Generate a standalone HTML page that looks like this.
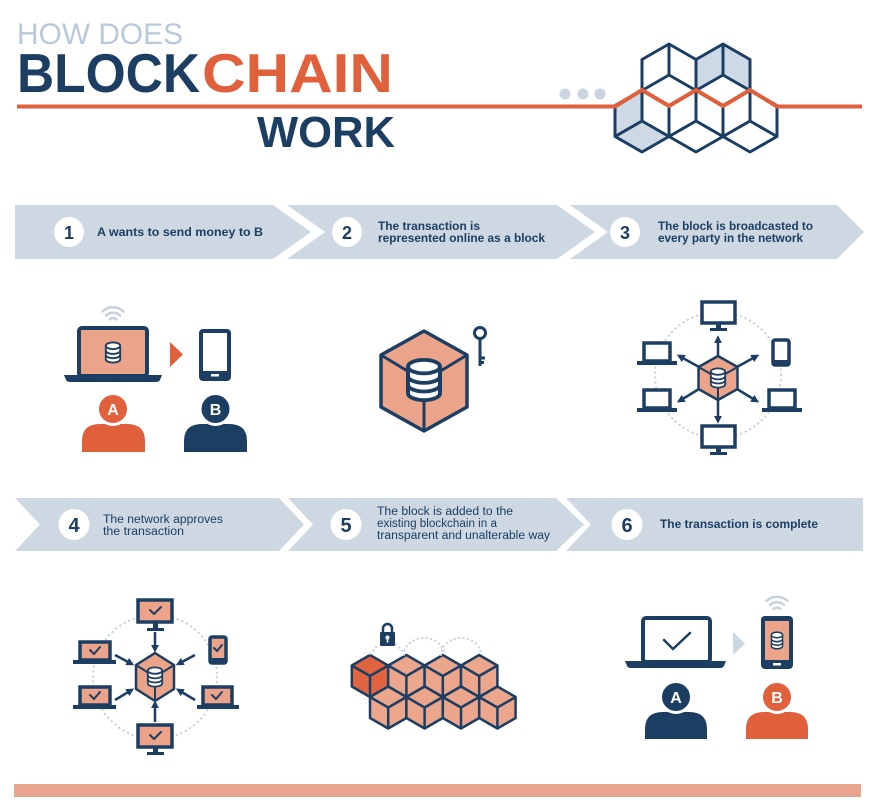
<!DOCTYPE html>
<html><head><meta charset="utf-8"><style>
html,body{margin:0;padding:0;background:#fff;}
svg{display:block;}
text{font-family:"Liberation Sans",Arial,sans-serif;}
</style></head><body>
<svg width="876" height="812" viewBox="0 0 876 812" xmlns="http://www.w3.org/2000/svg">
<defs>
<symbol id="db" viewBox="0 0 20 24" preserveAspectRatio="none">
<path d="M2,5 V19 A8,3.5 0 0 0 18,19 V5" fill="#fff" stroke="#1d3e63" stroke-width="2"/>
<ellipse cx="10" cy="5" rx="8" ry="3.5" fill="#fff" stroke="#1d3e63" stroke-width="2"/>
<path d="M2,10 A8,3.5 0 0 0 18,10 M2,14.5 A8,3.5 0 0 0 18,14.5" fill="none" stroke="#1d3e63" stroke-width="2"/>
</symbol>
<marker id="ah" viewBox="0 0 10 10" refX="4" refY="5" markerWidth="8" markerHeight="8" markerUnits="userSpaceOnUse" orient="auto"><path d="M0,0 L10,5 L0,10 Z" fill="#1d3e63"/></marker>
</defs>

<!-- Title -->
<text x="17" y="44" font-size="30" fill="#b9c9da" textLength="166" lengthAdjust="spacingAndGlyphs">HOW DOES</text>
<text x="17" y="92" font-size="55" font-weight="bold" fill="#1d3e63" textLength="183" lengthAdjust="spacingAndGlyphs">BLOCK</text>
<text x="202" y="92" font-size="55" font-weight="bold" fill="#e0603b" textLength="191" lengthAdjust="spacingAndGlyphs">CHAIN</text>
<text x="257" y="147" font-size="44" font-weight="bold" fill="#1d3e63" textLength="138" lengthAdjust="spacingAndGlyphs">WORK</text>

<!-- cube logo shading -->
<g fill="#cdd9e5">
<polygon points="615,105.5 642,90 642,121 615,136.5"/>
<polygon points="615,136.5 642,121 669,136.5 642,152"/>
<polygon points="696,59.5 723,44 723,75 696,90.5"/>
<polygon points="723,44 750,59.5 750,90.5 723,75"/>
</g>
<g fill="none" stroke="#1d3e63" stroke-width="3" stroke-linejoin="round">
<polygon points="669,44 696,59.5 696,90.5 669,106 642,90.5 642,59.5"/>
<polygon points="723,44 750,59.5 750,90.5 723,106 696,90.5 696,59.5"/>
<polygon points="642,90 669,105.5 669,136.5 642,152 615,136.5 615,105.5"/>
<polygon points="696,90 723,105.5 723,136.5 696,152 669,136.5 669,105.5"/>
<polygon points="750,90 777,105.5 777,136.5 750,152 723,136.5 723,105.5"/>
<path d="M669,75 V44 M669,75 L642,90.5 M669,75 L696,90.5"/>
<path d="M723,75 V44 M723,75 L696,90.5 M723,75 L750,90.5"/>
<path d="M642,121 V90 M642,121 L615,136.5 M642,121 L669,136.5"/>
<path d="M696,121 V90 M696,121 L669,136.5 M696,121 L723,136.5"/>
<path d="M750,121 V90 M750,121 L723,136.5 M750,121 L777,136.5"/>
</g>
<path d="M17,106.5 H615 L642,90 L669,106 L696,90 L723,106 L750,90 L777,106.5 H862" fill="none" stroke="#e0603b" stroke-width="4" stroke-linejoin="round"/>
<g fill="#cad5e1"><circle cx="565" cy="94" r="5.5"/><circle cx="583" cy="94" r="5.5"/><circle cx="600" cy="94" r="5.5"/></g>

<!-- Step bar 1 -->
<g fill="#cdd8e3">
<polygon points="15,205 273,205 311,232 273,259 15,259"/>
<polygon points="287,205 557,205 595,232 557,259 287,259 325,232"/>
<polygon points="570,205 837,205 864,232 837,259 570,259 608,232"/>
</g>
<g fill="#fff"><circle cx="69" cy="232" r="15"/><circle cx="347" cy="232" r="15"/><circle cx="625" cy="232" r="15"/></g>
<g font-weight="bold" fill="#1d3e63" font-size="18" text-anchor="middle">
<text x="69" y="239">1</text><text x="347" y="239">2</text><text x="625" y="239">3</text>
</g>
<g font-weight="bold" fill="#1d3e63" font-size="11.5">
<text x="97" y="236" textLength="166" lengthAdjust="spacingAndGlyphs">A wants to send money to B</text>
<text x="378" y="230" textLength="102" lengthAdjust="spacingAndGlyphs">The transaction is</text>
<text x="378" y="242" textLength="167" lengthAdjust="spacingAndGlyphs">represented online as a block</text>
<text x="658" y="230" textLength="155" lengthAdjust="spacingAndGlyphs">The block is broadcasted to</text>
<text x="658" y="242" textLength="145" lengthAdjust="spacingAndGlyphs">every party in the network</text>
</g>

<!-- Step 1 icon -->
<g fill="none" stroke="#c5d2de" stroke-width="2.5" stroke-linecap="round">
<path d="M109.5,319.5 A5,5 0 0 1 116.5,319.5"/>
<path d="M106,315.5 A10,10 0 0 1 120,315.5"/>
<path d="M102.5,311.5 A15,15 0 0 1 123.5,311.5"/>
</g>
<rect x="79" y="328" width="68" height="48" rx="3" fill="#eba389" stroke="#1d3e63" stroke-width="4"/>
<path d="M64,375 H162 L160,380 Q159,382 156,382 H70 Q67,382 66,380 Z" fill="#1d3e63"/>
<use href="#db" x="104" y="341" width="18" height="23"/>
<polygon points="170,342 170,367 183,354.5" fill="#e0603b"/>
<rect x="199" y="329" width="32" height="52" rx="4" fill="#1d3e63"/>
<rect x="203" y="333" width="24" height="38" fill="#fff"/>
<rect x="211" y="374" width="8" height="2.5" fill="#fff"/>
<path d="M82,452 V441 Q82,424 100,424 H127 Q145,424 145,441 V452 Z" fill="#e0603b"/>
<circle cx="113" cy="409" r="15.5" fill="#e0603b" stroke="#fff" stroke-width="3"/>
<text x="113" y="415" font-size="16" font-weight="bold" fill="#fff" text-anchor="middle">A</text>
<path d="M184,452 V441 Q184,424 202,424 H229 Q247,424 247,441 V452 Z" fill="#1d3e63"/>
<circle cx="215.5" cy="409" r="15.5" fill="#1d3e63" stroke="#fff" stroke-width="3"/>
<text x="215.5" y="415" font-size="16" font-weight="bold" fill="#fff" text-anchor="middle">B</text>

<!-- Step 2 icon -->
<polygon points="424,331 467,355 467,407 424,431 381,407 381,355" fill="#eba389" stroke="#1d3e63" stroke-width="3.5" stroke-linejoin="round"/>
<path d="M424,381 L381,355 M424,381 L467,355 M424,381 V431" stroke="#1d3e63" stroke-width="3" fill="none"/>
<use href="#db" x="404" y="357" width="40" height="46"/>
<circle cx="480" cy="333" r="5.5" fill="#fff" stroke="#1d3e63" stroke-width="3"/>
<path d="M480,338.5 V366 M480,358 H485 M480,362.5 H484" stroke="#1d3e63" stroke-width="3" fill="none"/>

<!-- Step 3 icon -->
<circle cx="718" cy="375" r="63" fill="none" stroke="#c5d1dd" stroke-width="2" stroke-dasharray="0.5 4.5" stroke-linecap="round"/>
<g stroke="#1d3e63" stroke-width="2.5" fill="none" marker-end="url(#ah)">
<path d="M718,356 V340"/>
<path d="M718,400 V419"/>
<path d="M699,367 L681,357"/>
<path d="M737,367 L755,357"/>
<path d="M699,389 L681,400"/>
<path d="M737,389 L755,400"/>
</g>
<polygon points="718,356 737.5,367 737.5,389 718,400 698.5,389 698.5,367" fill="#eba389" stroke="#1d3e63" stroke-width="2.5" stroke-linejoin="round"/>
<path d="M718,378 L698.5,367 M718,378 L737.5,367 M718,378 V400" stroke="#1d3e63" stroke-width="2" fill="none"/>
<use href="#db" x="709" y="367" width="18" height="22"/>
<g fill="#fff" stroke="#1d3e63" stroke-width="3.5">
<rect x="702" y="302" width="33" height="21"/>
<rect x="702" y="426" width="33" height="21"/>
<rect x="644" y="343" width="26" height="18"/>
<rect x="644" y="390" width="26" height="18"/>
<rect x="769" y="390" width="26" height="18"/>
<rect x="773" y="340" width="16" height="25" rx="2"/>
</g>
<g fill="#1d3e63">
<rect x="716" y="323" width="5" height="6"/><rect x="710" y="328" width="17" height="3"/>
<rect x="716" y="447" width="5" height="6"/><rect x="710" y="452" width="17" height="3"/>
<rect x="637" y="361" width="40" height="4"/>
<rect x="637" y="408" width="40" height="4"/>
<rect x="762" y="408" width="40" height="4"/>
<rect x="773" y="360" width="16" height="5"/>
</g>

<!-- Step bar 2 -->
<g fill="#cdd8e3">
<polygon points="15,498 279,498 304,524.5 279,551 15,551 40,524.5"/>
<polygon points="288,498 556,498 584,524.5 556,551 288,551 313,524.5"/>
<polygon points="566,498 863,498 863,551 566,551 591,524.5"/>
</g>
<g fill="#fff"><circle cx="74" cy="524.5" r="15.5"/><circle cx="346" cy="524.5" r="15.5"/><circle cx="627" cy="524.5" r="15.5"/></g>
<g font-weight="bold" fill="#1d3e63" font-size="20" text-anchor="middle">
<text x="74" y="532">4</text><text x="346" y="532">5</text><text x="627" y="532">6</text>
</g>
<g fill="#1d3e63" font-size="11.5">
<text x="103" y="523" textLength="120" lengthAdjust="spacingAndGlyphs">The network approves</text>
<text x="103" y="535" textLength="81" lengthAdjust="spacingAndGlyphs">the transaction</text>
<text x="377" y="515" textLength="136" lengthAdjust="spacingAndGlyphs">The block is added to the</text>
<text x="377" y="527" textLength="120" lengthAdjust="spacingAndGlyphs">existing blockchain in a</text>
<text x="377" y="539" textLength="173" lengthAdjust="spacingAndGlyphs">transparent and unalterable way</text>
<text x="660" y="528" font-weight="bold" textLength="158" lengthAdjust="spacingAndGlyphs">The transaction is complete</text>
</g>

<!-- Step 4 icon -->
<circle cx="155" cy="677" r="62" fill="none" stroke="#c5d1dd" stroke-width="2" stroke-dasharray="0.5 4.5" stroke-linecap="round"/>
<g stroke="#1d3e63" stroke-width="2.5" fill="none" marker-end="url(#ah)">
<path d="M155,632 V648"/>
<path d="M155,722 V705"/>
<path d="M115,655 L130,663"/>
<path d="M195,655 L180,663"/>
<path d="M115,700 L130,691"/>
<path d="M195,700 L180,691"/>
</g>
<polygon points="155,653 174,665 174,689 155,701 136,689 136,665" fill="#eba389" stroke="#1d3e63" stroke-width="2.5" stroke-linejoin="round"/>
<path d="M155,677 L136,665 M155,677 L174,665 M155,677 V701" stroke="#1d3e63" stroke-width="2" fill="none"/>
<use href="#db" x="146" y="666" width="18" height="22"/>
<g fill="#eba389" stroke="#1d3e63" stroke-width="3.5">
<rect x="138" y="600" width="34" height="22"/>
<rect x="138" y="725" width="34" height="22"/>
<rect x="80" y="642" width="30" height="18"/>
<rect x="80" y="687" width="30" height="18"/>
<rect x="203" y="687" width="29" height="18"/>
<rect x="210" y="637" width="16" height="26" rx="2"/>
</g>
<g fill="#1d3e63">
<rect x="153" y="622" width="5" height="7"/><rect x="147" y="628" width="17" height="3"/>
<rect x="153" y="747" width="5" height="6"/><rect x="147" y="752" width="17" height="3"/>
<rect x="73" y="660" width="43" height="4"/>
<rect x="73" y="705" width="43" height="4"/>
<rect x="197" y="705" width="42" height="4"/>
<rect x="210" y="658" width="16" height="5"/>
</g>
<g fill="none" stroke="#1d3e63" stroke-width="2" stroke-linejoin="round" stroke-linecap="round">
<polyline points="150,610 154,614 161,607"/>
<polyline points="150,735 154,739 161,732"/>
<polyline points="90,650 94,654 100,647"/>
<polyline points="90,695 94,699 100,692"/>
<polyline points="212,695 216,699 222,692"/>
<polyline points="214,648 217,651 222,645"/>
</g>

<!-- Step 5 icon -->
<g stroke="#1d3e63" stroke-width="2.5" stroke-linejoin="round">
<g fill="#e0643f">
<polygon points="370,655 388.2,665.5 388.2,686.5 370,697 351.8,686.5 351.8,665.5"/>
</g>
<g fill="#eba68c">
<polygon points="406.4,655 424.6,665.5 424.6,686.5 406.4,697 388.2,686.5 388.2,665.5"/>
<polygon points="442.8,655 461,665.5 461,686.5 442.8,697 424.6,686.5 424.6,665.5"/>
<polygon points="479.2,655 497.4,665.5 497.4,686.5 479.2,697 461,686.5 461,665.5"/>
<polygon points="388.2,686.5 406.4,697 406.4,718 388.2,728.5 370,718 370,697"/>
<polygon points="424.6,686.5 442.8,697 442.8,718 424.6,728.5 406.4,718 406.4,697"/>
<polygon points="461,686.5 479.2,697 479.2,718 461,728.5 442.8,718 442.8,697"/>
<polygon points="497.4,686.5 515.6,697 515.6,718 497.4,728.5 479.2,718 479.2,697"/>
</g>
<path fill="none" d="M351.8,665.5 L370,676 L388.2,665.5 M370,676 V697
M388.2,665.5 L406.4,676 L424.6,665.5 M406.4,676 V697
M424.6,665.5 L442.8,676 L461,665.5 M442.8,676 V697
M461,665.5 L479.2,676 L497.4,665.5 M479.2,676 V697
M370,697 L388.2,707.5 L406.4,697 M388.2,707.5 V728.5
M406.4,697 L424.6,707.5 L442.8,697 M424.6,707.5 V728.5
M442.8,697 L461,707.5 L479.2,697 M461,707.5 V728.5
M479.2,697 L497.4,707.5 L515.6,697 M497.4,707.5 V728.5"/>
</g>
<g fill="none" stroke="#c5d1dd" stroke-width="2" stroke-dasharray="0.5 4" stroke-linecap="round">
<path d="M370,654 L379,644"/>
<path d="M396,644 L405,654"/>
<path d="M404,655 A20,17 0 0 1 444,655"/>
<path d="M441,655 A20,17 0 0 1 481,655"/>
</g>
<path d="M383,633 V628.5 A4.5,4.5 0 0 1 392,628.5 V633" fill="none" stroke="#1d3e63" stroke-width="2.5"/>
<rect x="380" y="632" width="15" height="14" rx="1" fill="#1d3e63"/>
<circle cx="387.5" cy="637.5" r="2" fill="#fff"/>
<rect x="386.7" y="637.5" width="1.6" height="5" fill="#fff"/>

<!-- Step 6 icon -->
<rect x="643" y="618" width="67" height="44" rx="3" fill="#fff" stroke="#1d3e63" stroke-width="4"/>
<path d="M625,661 H726 L724,666 Q723,668 720,668 H631 Q628,668 627,666 Z" fill="#1d3e63"/>
<polyline points="664,640 673,649 690,633" fill="none" stroke="#1d3e63" stroke-width="2.5" stroke-linecap="round" stroke-linejoin="round"/>
<polygon points="733,632 733,655 745,643.5" fill="#cbd6e1"/>
<g fill="none" stroke="#c5d2de" stroke-width="2.5" stroke-linecap="round">
<path d="M773.5,609 A5,5 0 0 1 780.5,609"/>
<path d="M770,605 A10,10 0 0 1 784,605"/>
<path d="M766.5,601 A15,15 0 0 1 787.5,601"/>
</g>
<rect x="761" y="616" width="32" height="53" rx="4" fill="#1d3e63"/>
<rect x="765" y="621" width="24" height="39" fill="#eba389"/>
<rect x="773" y="663" width="8" height="2.5" fill="#fff"/>
<use href="#db" x="770" y="631" width="14" height="19"/>
<path d="M645,739 V729 Q645,712 663,712 H689 Q707,712 707,729 V739 Z" fill="#1d3e63"/>
<circle cx="676" cy="697" r="15.5" fill="#1d3e63" stroke="#fff" stroke-width="3"/>
<text x="676" y="703" font-size="16" font-weight="bold" fill="#fff" text-anchor="middle">A</text>
<path d="M746,739 V729 Q746,712 764,712 H790 Q808,712 808,729 V739 Z" fill="#e0603b"/>
<circle cx="777" cy="697" r="15.5" fill="#e0603b" stroke="#fff" stroke-width="3"/>
<text x="777" y="703" font-size="16" font-weight="bold" fill="#fff" text-anchor="middle">B</text>

<!-- bottom bar -->
<rect x="14" y="784" width="847" height="13" fill="#e8a48c"/>
</svg>
</body></html>
